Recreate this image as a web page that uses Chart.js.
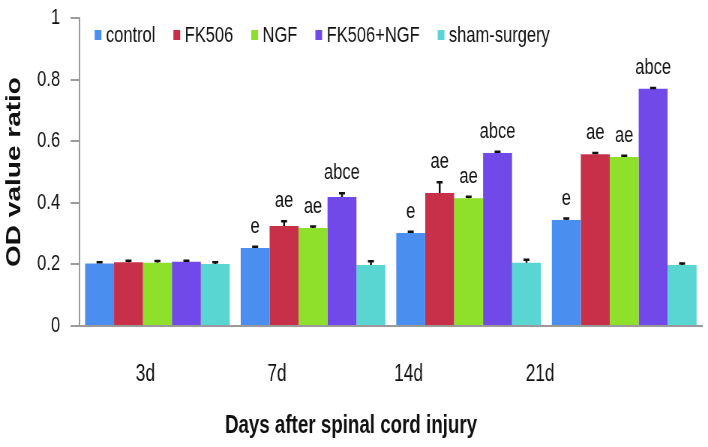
<!DOCTYPE html>
<html>
<head>
<meta charset="utf-8">
<script src="https://cdn.jsdelivr.net/npm/chart.js@4"></script>
<style>
  html, body { margin: 0; padding: 0; background: #fff; overflow: hidden; }
  #wrap { width: 708px; height: 447px; overflow: hidden; }
  /* the reference is horizontally squeezed, so draw wide and squeeze */
  #myChart { transform: scaleX(0.75); transform-origin: 0 0; }
</style>
</head>
<body>
<div id="wrap"><canvas id="myChart" width="944" height="447"></canvas></div>
<script>
const days = ["3d", "7d", "14d", "21d"];
const seriesNames = ["control", "FK506", "NGF", "FK506+NGF", "sham-surgery"];

const controlVals = [0.203, 0.253, 0.302, 0.344];
const fk506Vals = [0.207, 0.325, 0.432, 0.558];
const ngfVals = [0.205, 0.318, 0.415, 0.549];
const comboVals = [0.209, 0.419, 0.562, 0.770];
const shamVals = [0.201, 0.198, 0.205, 0.198];

const controlErr = [0.004, 0.004, 0.004, 0.005];
const fk506Err = [0.005, 0.015, 0.035, 0.004];
const ngfErr = [0.006, 0.005, 0.005, 0.004];
const comboErr = [0.003, 0.012, 0.004, 0.003];
const shamErr = [0.006, 0.012, 0.010, 0.005];

const controlSig = ["", "e", "e", "e"];
const fk506Sig = ["", "ae", "ae", "ae"];
const ngfSig = ["", "ae", "ae", "ae"];
const comboSig = ["", "abce", "abce", "abce"];
const shamSig = ["", "", "", ""];

const colors = ["#4a8ff0", "#c8304a", "#8fe02a", "#7049e8", "#5ad6d2"];
const FONT = '"Liberation Sans", Arial, sans-serif';

const values = [controlVals, fk506Vals, ngfVals, comboVals, shamVals];
const errors = [controlErr, fk506Err, ngfErr, comboErr, shamErr];
const sigs = [controlSig, fk506Sig, ngfSig, comboSig, shamSig];

// error bar caps + significance letters
const errorBars = {
    id: "errorBars",
    afterDatasetsDraw(chart) {
        const ctx = chart.ctx;
        const y = chart.scales.y;
        chart.data.datasets.forEach((ds, i) => {
            const meta = chart.getDatasetMeta(i);
            meta.data.forEach((bar, j) => {
                const top = y.getPixelForValue(ds.data[j] + ds.errors[j]);
                ctx.save();
                ctx.strokeStyle = "#111";
                ctx.lineWidth = 2.5;
                ctx.beginPath();
                ctx.moveTo(bar.x, bar.y);
                ctx.lineTo(bar.x, top);
                ctx.moveTo(bar.x - 4, top);
                ctx.lineTo(bar.x + 4, top);
                ctx.stroke();
                if (ds.sig[j]) {
                    ctx.fillStyle = "#111";
                    ctx.font = "22px " + FONT;
                    ctx.textAlign = "center";
                    ctx.textBaseline = "alphabetic";
                    ctx.fillText(ds.sig[j], bar.x, top - 14);
                }
                ctx.restore();
            });
        });
    }
};

// one-row legend inside the plot, top left
const innerLegend = {
    id: "innerLegend",
    afterDraw(chart) {
        const ctx = chart.ctx;
        const area = chart.chartArea;
        let x = area.left + 20;
        const yMid = area.top + 17;
        ctx.save();
        ctx.font = "22px " + FONT;
        ctx.textBaseline = "middle";
        ctx.textAlign = "left";
        chart.data.datasets.forEach(ds => {
            ctx.fillStyle = ds.backgroundColor;
            ctx.fillRect(x, yMid - 5, 9, 10);
            ctx.fillStyle = "#111";
            ctx.fillText(ds.label, x + 15, yMid + 1);
            x += 15 + ctx.measureText(ds.label).width + 24;
        });
        ctx.restore();
    }
};

const chart = new Chart(document.getElementById("myChart").getContext("2d"), {
    type: "bar",
    data: {
        labels: days,
        datasets: seriesNames.map((name, i) => ({
            label: name,
            data: values[i],
            errors: errors[i],
            sig: sigs[i],
            backgroundColor: colors[i],
            borderWidth: 0,
            categoryPercentage: 0.93,
            barPercentage: 1.0
        }))
    },
    options: {
        responsive: false,
        animation: false,
        devicePixelRatio: 1,
        layout: { padding: { top: 0, right: 8, left: 0, bottom: 4 } },
        plugins: {
            tooltip: { enabled: false },
            legend: { display: false },
            title: {
                display: true,
                position: "bottom",
                text: "Days after spinal cord injury",
                color: "#111",
                font: { family: FONT, size: 25, weight: "bold" },
                padding: { top: 21, bottom: 2 }
            }
        },
        scales: {
            x: {
                position: "bottom",
                weight: 0,
                grid: { display: false, drawTicks: false },
                border: { color: "#9a9a9a", width: 2 },
                ticks: { display: false }
            },
            x2: {
                type: "linear",
                position: "bottom",
                weight: 1,
                offset: false,
                min: -0.5,
                max: 4.23,
                grid: { display: false, drawTicks: false },
                border: { display: false },
                afterBuildTicks(axis) {
                    axis.ticks = days.map((d, i) => ({ value: i }));
                },
                afterFit(axis) {
                    axis.height = 64;
                },
                ticks: {
                    autoSkip: false,
                    padding: 35,
                    maxRotation: 0,
                    color: "#111",
                    font: { family: FONT, size: 23 },
                    callback: v => days[v]
                }
            },
            y: {
                min: 0,
                max: 1,
                afterFit(axis) {
                    axis.paddingTop = 18;
                },
                grid: { display: true, drawOnChartArea: false, tickLength: 12, color: "#9a9a9a", lineWidth: 2 },
                border: { color: "#9a9a9a", width: 2 },
                ticks: {
                    stepSize: 0.2,
                    padding: 14,
                    color: "#111",
                    font: { family: FONT, size: 22 },
                    callback: v => String(+v.toFixed(1))
                },
                title: {
                    display: true,
                    text: "OD value ratio",
                    color: "#111",
                    font: { family: FONT, size: 28, weight: "bold" },
                    padding: { top: 2, bottom: 0 }
                }
            }
        }
    },
    plugins: [errorBars, innerLegend]
});
</script>
</body>
</html>
